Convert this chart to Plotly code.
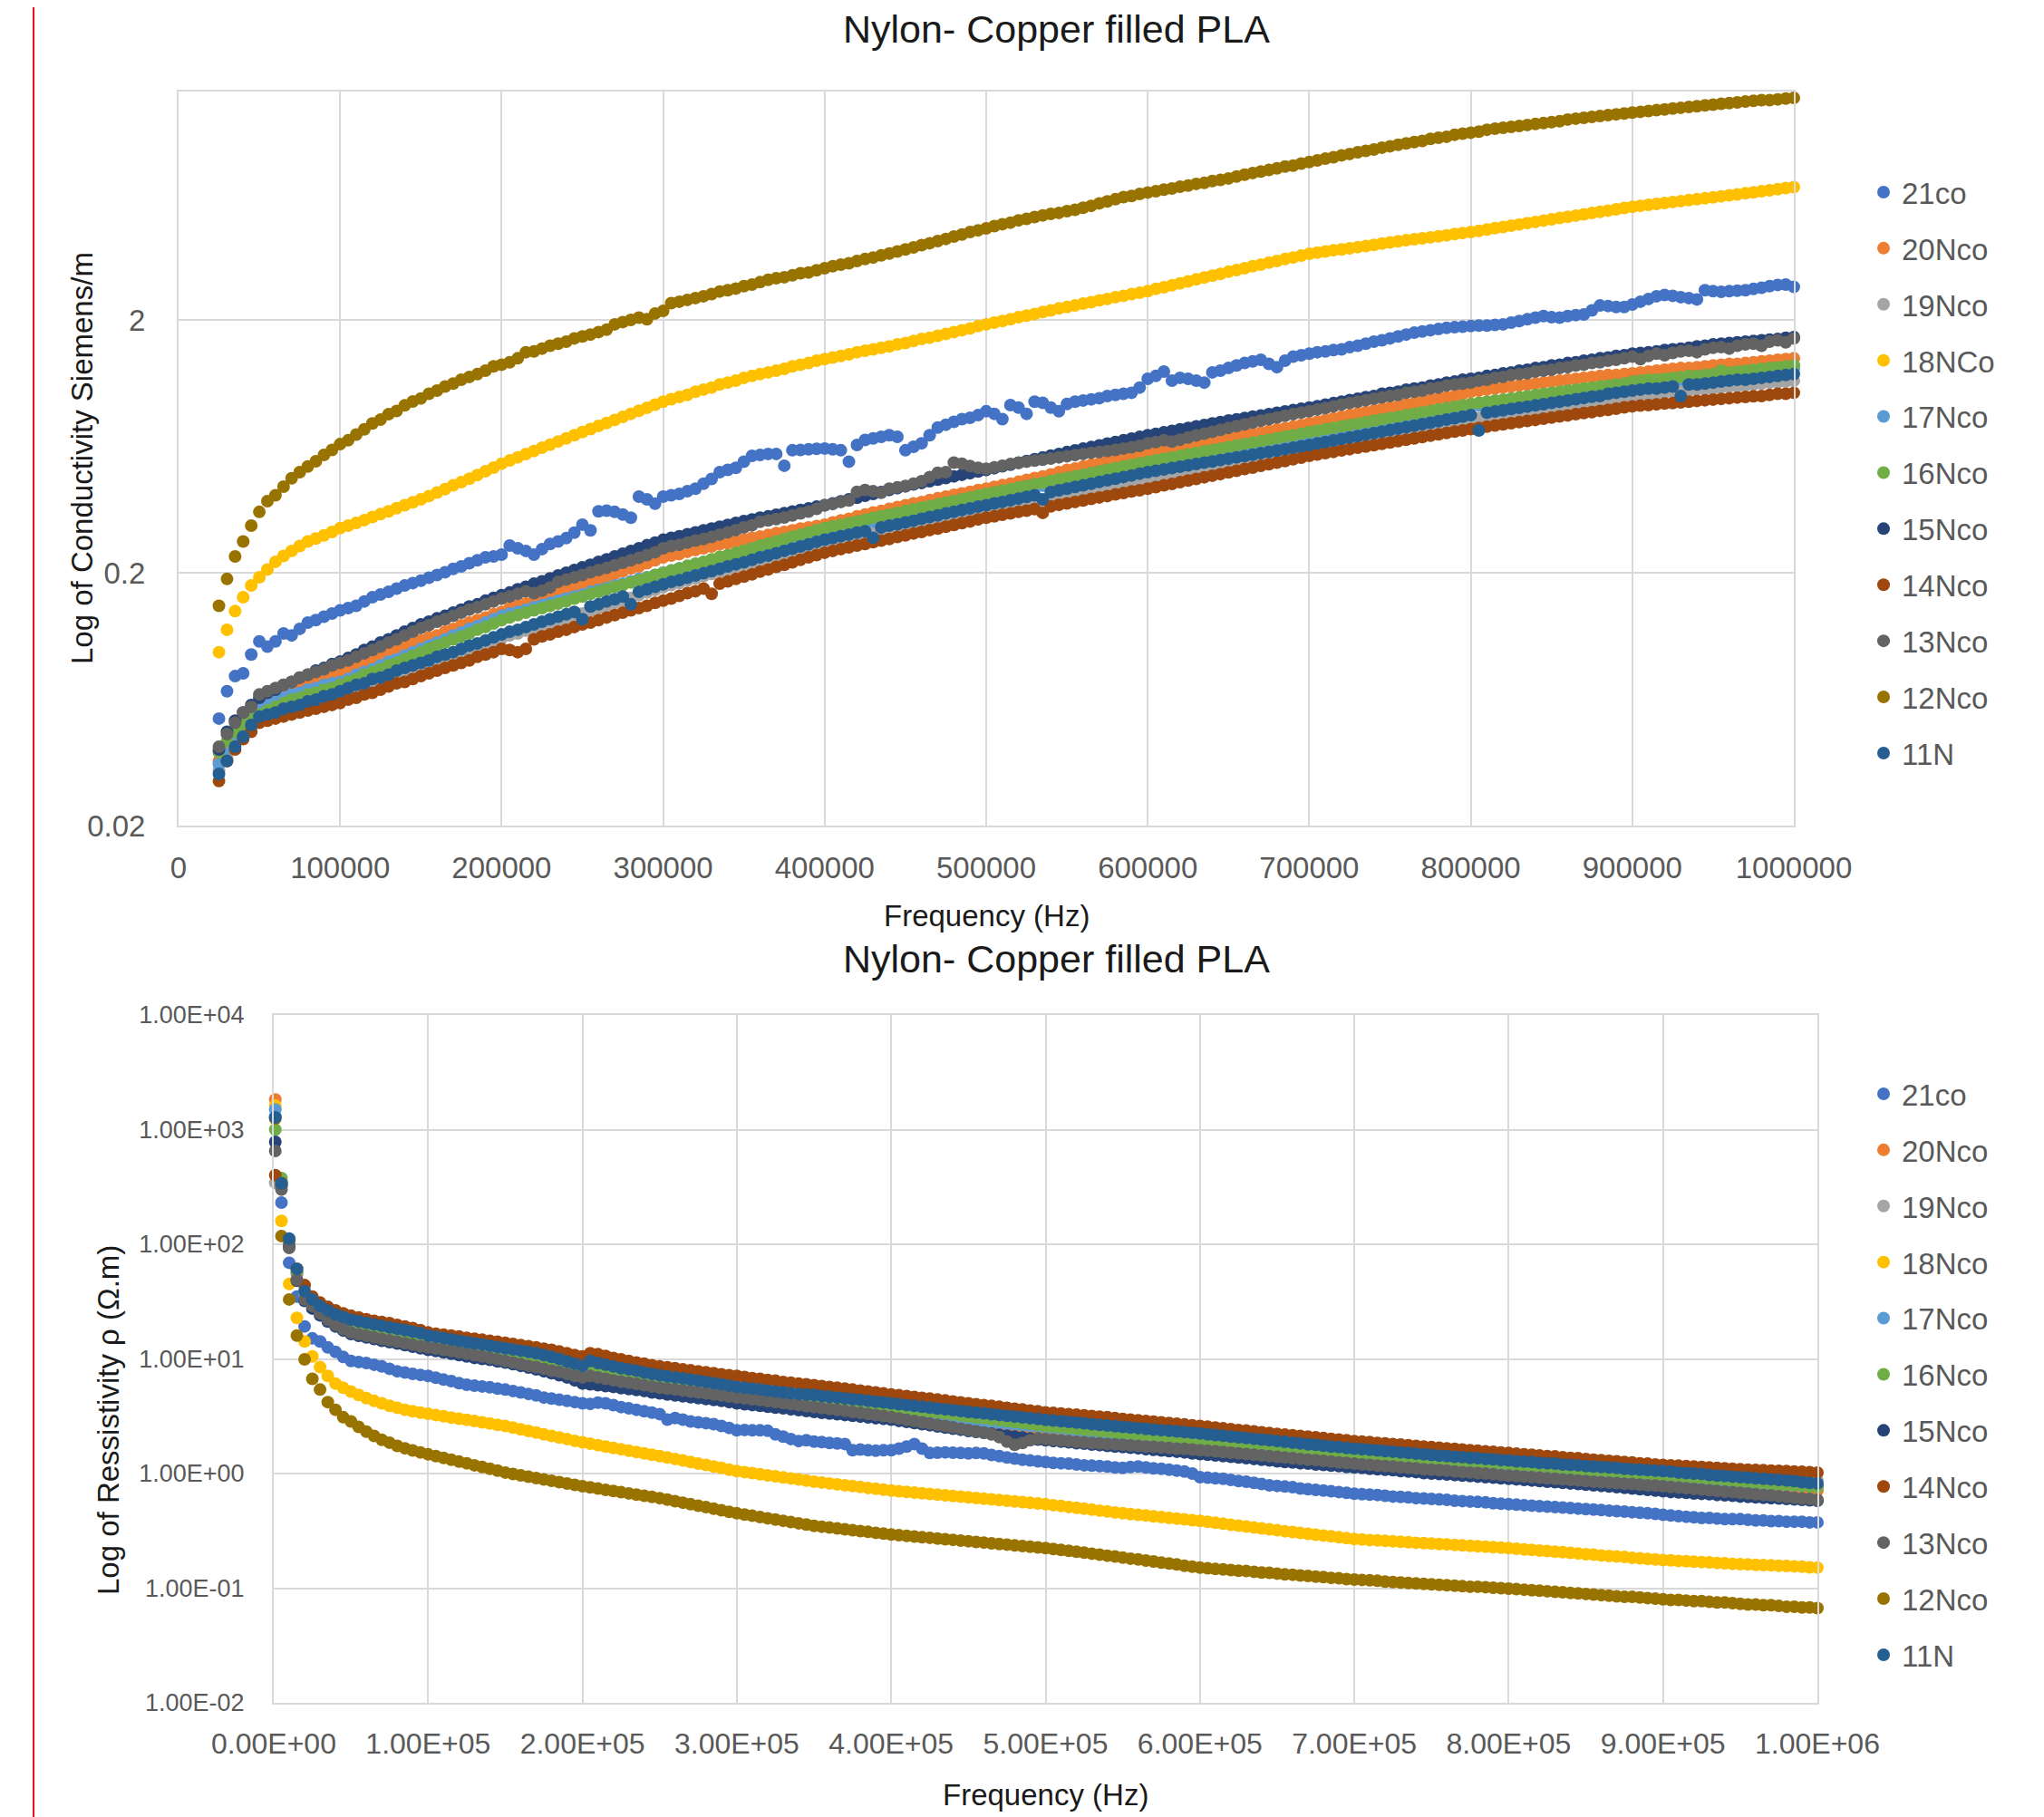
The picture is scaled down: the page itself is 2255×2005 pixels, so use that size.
import plotly.graph_objects as go

# ---------------- data ----------------
F_TOP_KHZ = list(range(25, 1001, 5))            # conductivity sweep (kHz)
F_BOT_KHZ = [1] + list(range(5, 1001, 5))        # resistivity sweep (kHz)

NAMES_TOP = ["21co", "20Nco", "19Nco", "18NCo", "17Nco", "16Nco", "15Nco", "14Nco", "13Nco", "12Nco", "11N"]
NAMES_BOT = ["21co", "20Nco", "19Nco", "18Nco", "17Nco", "16Nco", "15Nco", "14Nco", "13Nco", "12Nco", "11N"]
COLORS = ["#4472C4", "#ED7D31", "#A5A5A5", "#FFC000", "#5B9BD5", "#70AD47",
          "#264478", "#9E480E", "#636363", "#997300", "#255E91"]

TOP_X_TICKS = [0, 100000, 200000, 300000, 400000, 500000, 600000, 700000, 800000, 900000, 1000000]
TOP_X_LABELS = ["0", "100000", "200000", "300000", "400000", "500000", "600000", "700000", "800000", "900000", "1000000"]
TOP_Y_TICKS = [0.02, 0.2, 2]
TOP_Y_LABELS = ["0.02", "0.2", "2"]
BOT_X_LABELS = ["0.00E+00", "1.00E+05", "2.00E+05", "3.00E+05", "4.00E+05", "5.00E+05",
                "6.00E+05", "7.00E+05", "8.00E+05", "9.00E+05", "1.00E+06"]
BOT_Y_TICKS = [0.01, 0.1, 1, 10, 100, 1000, 10000]
BOT_Y_LABELS = ["1.00E-02", "1.00E-01", "1.00E+00", "1.00E+01", "1.00E+02", "1.00E+03", "1.00E+04"]

# Conductivity (S/m), top chart
SIGMA_21CO = [
    0.053, 0.068, 0.078, 0.080, 0.095, 0.107, 0.102, 0.107, 0.115, 0.113,
    0.120, 0.127, 0.130, 0.134, 0.138, 0.142, 0.145, 0.148, 0.154, 0.160,
    0.164, 0.168, 0.173, 0.178, 0.182, 0.186, 0.191, 0.196, 0.201, 0.207,
    0.212, 0.218, 0.224, 0.230, 0.232, 0.236, 0.256, 0.250, 0.244, 0.236,
    0.248, 0.260, 0.266, 0.274, 0.288, 0.310, 0.294, 0.350, 0.352, 0.348,
    0.340, 0.330, 0.400, 0.390, 0.375, 0.400, 0.405, 0.410, 0.420, 0.430,
    0.450, 0.470, 0.500, 0.510, 0.520, 0.550, 0.580, 0.585, 0.590, 0.590,
    0.530, 0.610, 0.612, 0.615, 0.618, 0.620, 0.615, 0.610, 0.550, 0.640,
    0.670, 0.680, 0.690, 0.700, 0.690, 0.610, 0.630, 0.650, 0.700, 0.750,
    0.770, 0.790, 0.810, 0.820, 0.840, 0.870, 0.850, 0.810, 0.920, 0.900,
    0.850, 0.950, 0.940, 0.900, 0.870, 0.930, 0.950, 0.960, 0.970, 0.980,
    1.00, 1.01, 1.02, 1.03, 1.08, 1.17, 1.20, 1.25, 1.15, 1.18,
    1.17, 1.15, 1.13, 1.24, 1.26, 1.29, 1.32, 1.35, 1.37, 1.39,
    1.34, 1.30, 1.38, 1.43, 1.45, 1.47, 1.49, 1.50, 1.52, 1.53,
    1.56, 1.58, 1.61, 1.64, 1.66, 1.69, 1.72, 1.75, 1.78, 1.80,
    1.82, 1.84, 1.86, 1.87, 1.88, 1.89, 1.90, 1.90, 1.91, 1.92,
    1.95, 1.98, 2.01, 2.04, 2.07, 2.05, 2.04, 2.07, 2.09, 2.10,
    2.18, 2.28, 2.27, 2.25, 2.25, 2.30, 2.36, 2.42, 2.48, 2.51,
    2.49, 2.46, 2.44, 2.41, 2.62, 2.60, 2.58, 2.60, 2.61, 2.62,
    2.65, 2.68, 2.72, 2.75, 2.76, 2.70]
SIGMA_20NCO = [
    0.036, 0.042, 0.047, 0.052, 0.057, 0.061, 0.063, 0.064, 0.067, 0.069,
    0.071, 0.073, 0.075, 0.076, 0.078, 0.080, 0.082, 0.085, 0.087, 0.090,
    0.093, 0.096, 0.098, 0.102, 0.105, 0.108, 0.111, 0.113, 0.117, 0.120,
    0.124, 0.127, 0.130, 0.133, 0.137, 0.140, 0.145, 0.148, 0.151, 0.155,
    0.159, 0.162, 0.167, 0.170, 0.174, 0.178, 0.183, 0.187, 0.193, 0.198,
    0.203, 0.208, 0.212, 0.218, 0.224, 0.230, 0.234, 0.237, 0.242, 0.246,
    0.250, 0.254, 0.259, 0.262, 0.266, 0.270, 0.275, 0.278, 0.282, 0.287,
    0.290, 0.294, 0.299, 0.302, 0.306, 0.310, 0.316, 0.322, 0.327, 0.334,
    0.340, 0.346, 0.351, 0.358, 0.364, 0.370, 0.376, 0.381, 0.388, 0.394,
    0.400, 0.407, 0.412, 0.418, 0.425, 0.430, 0.437, 0.444, 0.450, 0.458,
    0.466, 0.474, 0.481, 0.490, 0.500, 0.510, 0.517, 0.526, 0.535, 0.542,
    0.550, 0.558, 0.567, 0.574, 0.582, 0.590, 0.598, 0.607, 0.615, 0.624,
    0.633, 0.641, 0.651, 0.660, 0.669, 0.680, 0.689, 0.698, 0.708, 0.716,
    0.726, 0.737, 0.746, 0.756, 0.768, 0.780, 0.791, 0.804, 0.815, 0.828,
    0.840, 0.853, 0.864, 0.876, 0.889, 0.900, 0.912, 0.926, 0.938, 0.952,
    0.965, 0.978, 0.990, 1.00, 1.02, 1.04, 1.05, 1.06, 1.07, 1.08,
    1.09, 1.10, 1.11, 1.12, 1.13, 1.14, 1.15, 1.16, 1.17, 1.18,
    1.19, 1.20, 1.21, 1.21, 1.22, 1.23, 1.24, 1.25, 1.26, 1.27,
    1.28, 1.29, 1.29, 1.30, 1.31, 1.32, 1.33, 1.34, 1.34, 1.35,
    1.36, 1.37, 1.38, 1.39, 1.40, 1.41]
SIGMA_19NCO = [
    0.033, 0.037, 0.042, 0.046, 0.050, 0.053, 0.054, 0.055, 0.057, 0.058,
    0.059, 0.060, 0.062, 0.063, 0.064, 0.066, 0.068, 0.069, 0.071, 0.073,
    0.075, 0.077, 0.079, 0.081, 0.083, 0.085, 0.087, 0.090, 0.092, 0.094,
    0.097, 0.099, 0.102, 0.104, 0.107, 0.110, 0.113, 0.115, 0.118, 0.121,
    0.123, 0.126, 0.129, 0.132, 0.135, 0.138, 0.142, 0.145, 0.148, 0.152,
    0.155, 0.159, 0.163, 0.167, 0.171, 0.175, 0.179, 0.182, 0.186, 0.190,
    0.194, 0.198, 0.202, 0.206, 0.211, 0.215, 0.220, 0.224, 0.229, 0.234,
    0.239, 0.244, 0.249, 0.254, 0.260, 0.265, 0.269, 0.272, 0.276, 0.280,
    0.284, 0.288, 0.292, 0.296, 0.300, 0.304, 0.309, 0.313, 0.317, 0.322,
    0.326, 0.331, 0.336, 0.340, 0.345, 0.350, 0.355, 0.360, 0.365, 0.370,
    0.375, 0.380, 0.385, 0.391, 0.396, 0.402, 0.407, 0.413, 0.418, 0.424,
    0.430, 0.436, 0.442, 0.448, 0.454, 0.460, 0.467, 0.473, 0.480, 0.487,
    0.494, 0.501, 0.508, 0.515, 0.522, 0.530, 0.537, 0.545, 0.552, 0.560,
    0.568, 0.576, 0.584, 0.593, 0.601, 0.610, 0.619, 0.627, 0.636, 0.645,
    0.655, 0.664, 0.673, 0.683, 0.693, 0.702, 0.712, 0.722, 0.733, 0.743,
    0.754, 0.765, 0.775, 0.786, 0.798, 0.810, 0.819, 0.827, 0.836, 0.845,
    0.854, 0.863, 0.872, 0.881, 0.891, 0.900, 0.910, 0.920, 0.929, 0.939,
    0.949, 0.959, 0.970, 0.980, 0.990, 1.00, 1.01, 1.01, 1.02, 1.03,
    1.04, 1.04, 1.05, 1.06, 1.06, 1.07, 1.08, 1.09, 1.09, 1.10,
    1.11, 1.12, 1.13, 1.13, 1.14, 1.15]
SIGMA_18NCO = [
    0.097, 0.119, 0.141, 0.160, 0.178, 0.192, 0.206, 0.221, 0.233, 0.244,
    0.255, 0.266, 0.273, 0.281, 0.290, 0.300, 0.307, 0.315, 0.323, 0.332,
    0.341, 0.350, 0.360, 0.370, 0.380, 0.390, 0.402, 0.415, 0.428, 0.443,
    0.456, 0.471, 0.487, 0.504, 0.521, 0.540, 0.556, 0.572, 0.589, 0.606,
    0.624, 0.642, 0.661, 0.680, 0.700, 0.720, 0.740, 0.761, 0.782, 0.804,
    0.827, 0.850, 0.874, 0.898, 0.924, 0.950, 0.971, 0.992, 1.01, 1.04,
    1.06, 1.08, 1.11, 1.13, 1.15, 1.18, 1.20, 1.22, 1.24, 1.26,
    1.28, 1.31, 1.33, 1.35, 1.38, 1.40, 1.42, 1.44, 1.46, 1.49,
    1.51, 1.53, 1.55, 1.57, 1.60, 1.62, 1.65, 1.68, 1.70, 1.73,
    1.76, 1.79, 1.82, 1.85, 1.89, 1.92, 1.95, 1.98, 2.01, 2.05,
    2.08, 2.11, 2.15, 2.18, 2.22, 2.25, 2.28, 2.32, 2.35, 2.39,
    2.42, 2.46, 2.49, 2.53, 2.56, 2.60, 2.65, 2.69, 2.74, 2.79,
    2.84, 2.89, 2.94, 2.99, 3.04, 3.10, 3.15, 3.20, 3.26, 3.31,
    3.37, 3.42, 3.48, 3.53, 3.59, 3.65, 3.69, 3.73, 3.77, 3.80,
    3.84, 3.88, 3.92, 3.96, 4.01, 4.05, 4.09, 4.13, 4.17, 4.20,
    4.24, 4.28, 4.32, 4.37, 4.41, 4.45, 4.50, 4.55, 4.61, 4.66,
    4.72, 4.77, 4.83, 4.88, 4.94, 5.00, 5.06, 5.11, 5.17, 5.23,
    5.29, 5.35, 5.41, 5.47, 5.54, 5.60, 5.65, 5.70, 5.75, 5.80,
    5.85, 5.90, 5.95, 6.00, 6.05, 6.10, 6.16, 6.22, 6.27, 6.33,
    6.39, 6.45, 6.51, 6.57, 6.64, 6.70]
SIGMA_17NCO = [
    0.035, 0.040, 0.045, 0.050, 0.054, 0.058, 0.060, 0.062, 0.064, 0.066,
    0.067, 0.069, 0.070, 0.072, 0.073, 0.074, 0.076, 0.079, 0.081, 0.083,
    0.086, 0.089, 0.091, 0.094, 0.097, 0.100, 0.103, 0.106, 0.109, 0.113,
    0.116, 0.120, 0.123, 0.127, 0.131, 0.135, 0.138, 0.140, 0.143, 0.146,
    0.149, 0.152, 0.155, 0.158, 0.161, 0.164, 0.168, 0.171, 0.174, 0.178,
    0.181, 0.185, 0.189, 0.192, 0.196, 0.200, 0.204, 0.208, 0.212, 0.216,
    0.220, 0.224, 0.228, 0.232, 0.237, 0.241, 0.246, 0.250, 0.255, 0.260,
    0.265, 0.270, 0.275, 0.280, 0.285, 0.290, 0.295, 0.299, 0.304, 0.309,
    0.314, 0.319, 0.324, 0.329, 0.335, 0.340, 0.346, 0.351, 0.357, 0.363,
    0.368, 0.374, 0.381, 0.387, 0.393, 0.400, 0.406, 0.412, 0.417, 0.423,
    0.429, 0.435, 0.442, 0.448, 0.454, 0.461, 0.467, 0.474, 0.481, 0.487,
    0.494, 0.501, 0.508, 0.515, 0.523, 0.530, 0.537, 0.545, 0.553, 0.560,
    0.568, 0.576, 0.584, 0.592, 0.601, 0.609, 0.618, 0.626, 0.635, 0.644,
    0.653, 0.662, 0.671, 0.681, 0.690, 0.700, 0.709, 0.718, 0.728, 0.737,
    0.747, 0.757, 0.767, 0.777, 0.787, 0.798, 0.808, 0.819, 0.830, 0.841,
    0.852, 0.863, 0.874, 0.886, 0.898, 0.910, 0.919, 0.928, 0.938, 0.947,
    0.957, 0.966, 0.976, 0.986, 0.996, 1.01, 1.02, 1.03, 1.04, 1.05,
    1.06, 1.07, 1.08, 1.09, 1.10, 1.11, 1.12, 1.13, 1.13, 1.14,
    1.15, 1.16, 1.16, 1.17, 1.18, 1.19, 1.20, 1.21, 1.21, 1.22,
    1.23, 1.24, 1.25, 1.26, 1.27, 1.28]
SIGMA_16NCO = [
    0.039, 0.043, 0.047, 0.050, 0.053, 0.055, 0.057, 0.059, 0.061, 0.063,
    0.064, 0.066, 0.067, 0.069, 0.070, 0.072, 0.074, 0.076, 0.079, 0.081,
    0.083, 0.086, 0.088, 0.091, 0.094, 0.097, 0.100, 0.103, 0.106, 0.109,
    0.112, 0.115, 0.119, 0.122, 0.126, 0.130, 0.133, 0.136, 0.139, 0.142,
    0.145, 0.148, 0.151, 0.154, 0.158, 0.161, 0.165, 0.168, 0.172, 0.176,
    0.179, 0.183, 0.187, 0.191, 0.196, 0.200, 0.204, 0.208, 0.213, 0.217,
    0.221, 0.226, 0.231, 0.235, 0.240, 0.245, 0.250, 0.256, 0.261, 0.266,
    0.272, 0.278, 0.283, 0.289, 0.295, 0.300, 0.305, 0.310, 0.314, 0.319,
    0.324, 0.330, 0.335, 0.340, 0.345, 0.351, 0.356, 0.362, 0.367, 0.373,
    0.379, 0.385, 0.391, 0.397, 0.404, 0.410, 0.416, 0.422, 0.428, 0.435,
    0.441, 0.448, 0.454, 0.461, 0.468, 0.475, 0.482, 0.489, 0.496, 0.504,
    0.511, 0.519, 0.527, 0.534, 0.542, 0.550, 0.557, 0.565, 0.572, 0.580,
    0.588, 0.596, 0.604, 0.612, 0.620, 0.629, 0.637, 0.646, 0.654, 0.663,
    0.672, 0.681, 0.691, 0.700, 0.710, 0.720, 0.729, 0.739, 0.748, 0.758,
    0.768, 0.778, 0.788, 0.798, 0.808, 0.819, 0.829, 0.840, 0.851, 0.862,
    0.873, 0.885, 0.896, 0.907, 0.919, 0.930, 0.940, 0.949, 0.959, 0.968,
    0.978, 0.988, 0.998, 1.01, 1.02, 1.03, 1.04, 1.05, 1.06, 1.07,
    1.08, 1.09, 1.10, 1.11, 1.12, 1.14, 1.15, 1.16, 1.16, 1.17,
    1.18, 1.19, 1.20, 1.20, 1.21, 1.22, 1.26, 1.24, 1.25, 1.26,
    1.27, 1.28, 1.29, 1.30, 1.31, 1.32]
SIGMA_15NCO = [
    0.040, 0.047, 0.052, 0.056, 0.060, 0.064, 0.067, 0.069, 0.072, 0.074,
    0.077, 0.079, 0.082, 0.084, 0.087, 0.089, 0.092, 0.095, 0.099, 0.102,
    0.106, 0.109, 0.113, 0.117, 0.121, 0.125, 0.128, 0.132, 0.135, 0.139,
    0.143, 0.147, 0.150, 0.155, 0.159, 0.163, 0.167, 0.172, 0.176, 0.181,
    0.185, 0.190, 0.195, 0.200, 0.205, 0.210, 0.215, 0.221, 0.226, 0.232,
    0.238, 0.244, 0.250, 0.257, 0.263, 0.270, 0.275, 0.279, 0.284, 0.289,
    0.294, 0.299, 0.304, 0.309, 0.315, 0.320, 0.325, 0.330, 0.334, 0.339,
    0.344, 0.349, 0.354, 0.359, 0.365, 0.370, 0.376, 0.383, 0.390, 0.396,
    0.403, 0.410, 0.417, 0.425, 0.432, 0.440, 0.447, 0.453, 0.460, 0.467,
    0.474, 0.481, 0.488, 0.495, 0.503, 0.510, 0.518, 0.527, 0.535, 0.544,
    0.553, 0.562, 0.571, 0.581, 0.590, 0.600, 0.609, 0.619, 0.628, 0.638,
    0.648, 0.658, 0.668, 0.679, 0.689, 0.700, 0.709, 0.719, 0.728, 0.738,
    0.748, 0.758, 0.768, 0.779, 0.789, 0.800, 0.809, 0.819, 0.829, 0.838,
    0.848, 0.858, 0.869, 0.879, 0.890, 0.900, 0.912, 0.925, 0.937, 0.950,
    0.963, 0.976, 0.989, 1.00, 1.02, 1.03, 1.04, 1.06, 1.07, 1.08,
    1.10, 1.11, 1.13, 1.14, 1.16, 1.17, 1.18, 1.20, 1.21, 1.23,
    1.24, 1.26, 1.27, 1.29, 1.30, 1.32, 1.33, 1.35, 1.36, 1.38,
    1.39, 1.41, 1.42, 1.44, 1.45, 1.47, 1.48, 1.49, 1.50, 1.52,
    1.53, 1.54, 1.55, 1.57, 1.58, 1.60, 1.61, 1.62, 1.63, 1.64,
    1.65, 1.66, 1.67, 1.68, 1.70, 1.71]
SIGMA_14NCO = [
    0.030, 0.036, 0.040, 0.044, 0.047, 0.051, 0.052, 0.053, 0.054, 0.055,
    0.056, 0.057, 0.058, 0.059, 0.060, 0.061, 0.063, 0.064, 0.066, 0.067,
    0.069, 0.071, 0.073, 0.074, 0.076, 0.078, 0.080, 0.082, 0.084, 0.086,
    0.088, 0.090, 0.093, 0.095, 0.097, 0.100, 0.099, 0.097, 0.100, 0.109,
    0.112, 0.114, 0.117, 0.119, 0.122, 0.125, 0.127, 0.130, 0.133, 0.136,
    0.139, 0.142, 0.145, 0.148, 0.152, 0.155, 0.158, 0.162, 0.166, 0.169,
    0.173, 0.165, 0.181, 0.185, 0.189, 0.193, 0.197, 0.202, 0.206, 0.211,
    0.215, 0.220, 0.225, 0.230, 0.235, 0.240, 0.244, 0.248, 0.252, 0.256,
    0.260, 0.264, 0.268, 0.272, 0.277, 0.281, 0.286, 0.290, 0.295, 0.299,
    0.304, 0.309, 0.314, 0.319, 0.325, 0.330, 0.334, 0.339, 0.343, 0.348,
    0.352, 0.357, 0.345, 0.366, 0.371, 0.376, 0.381, 0.386, 0.392, 0.397,
    0.402, 0.408, 0.413, 0.419, 0.424, 0.430, 0.436, 0.443, 0.449, 0.456,
    0.463, 0.470, 0.477, 0.484, 0.491, 0.499, 0.506, 0.514, 0.521, 0.529,
    0.537, 0.545, 0.553, 0.562, 0.570, 0.580, 0.587, 0.594, 0.601, 0.609,
    0.616, 0.624, 0.631, 0.639, 0.647, 0.655, 0.663, 0.671, 0.680, 0.688,
    0.697, 0.705, 0.714, 0.723, 0.731, 0.740, 0.748, 0.756, 0.764, 0.772,
    0.780, 0.788, 0.796, 0.804, 0.813, 0.821, 0.830, 0.838, 0.847, 0.856,
    0.864, 0.873, 0.882, 0.891, 0.901, 0.910, 0.916, 0.921, 0.927, 0.933,
    0.938, 0.944, 0.950, 0.956, 0.962, 0.968, 0.974, 0.980, 0.986, 0.992,
    0.998, 1.00, 1.01, 1.02, 1.02, 1.03]
SIGMA_13NCO = [
    0.041, 0.046, 0.051, 0.056, 0.059, 0.066, 0.068, 0.070, 0.072, 0.074,
    0.077, 0.079, 0.081, 0.083, 0.086, 0.088, 0.090, 0.093, 0.096, 0.099,
    0.102, 0.106, 0.109, 0.113, 0.117, 0.121, 0.124, 0.128, 0.131, 0.135,
    0.139, 0.143, 0.146, 0.150, 0.154, 0.158, 0.161, 0.165, 0.169, 0.166,
    0.170, 0.175, 0.184, 0.188, 0.192, 0.196, 0.201, 0.205, 0.209, 0.214,
    0.219, 0.224, 0.229, 0.235, 0.241, 0.250, 0.255, 0.258, 0.263, 0.268,
    0.272, 0.277, 0.283, 0.289, 0.295, 0.302, 0.308, 0.318, 0.322, 0.326,
    0.331, 0.337, 0.343, 0.349, 0.358, 0.370, 0.374, 0.381, 0.386, 0.418,
    0.425, 0.420, 0.414, 0.430, 0.435, 0.440, 0.450, 0.460, 0.478, 0.497,
    0.500, 0.545, 0.540, 0.528, 0.520, 0.515, 0.522, 0.530, 0.538, 0.545,
    0.550, 0.555, 0.560, 0.566, 0.572, 0.578, 0.584, 0.590, 0.596, 0.600,
    0.606, 0.612, 0.620, 0.627, 0.635, 0.650, 0.658, 0.668, 0.660, 0.672,
    0.685, 0.698, 0.710, 0.722, 0.735, 0.748, 0.760, 0.772, 0.785, 0.798,
    0.810, 0.822, 0.835, 0.848, 0.860, 0.870, 0.884, 0.896, 0.910, 0.925,
    0.938, 0.950, 0.962, 0.975, 0.988, 1.00, 1.01, 1.03, 1.04, 1.05,
    1.07, 1.08, 1.10, 1.11, 1.12, 1.13, 1.15, 1.16, 1.18, 1.19,
    1.21, 1.22, 1.23, 1.25, 1.26, 1.27, 1.29, 1.30, 1.32, 1.33,
    1.35, 1.36, 1.38, 1.39, 1.41, 1.43, 1.40, 1.44, 1.47, 1.45,
    1.48, 1.50, 1.51, 1.49, 1.53, 1.55, 1.56, 1.54, 1.58, 1.60,
    1.61, 1.58, 1.64, 1.66, 1.63, 1.69]
SIGMA_12NCO = [
    0.148, 0.189, 0.232, 0.266, 0.307, 0.348, 0.384, 0.405, 0.438, 0.473,
    0.500, 0.526, 0.552, 0.585, 0.612, 0.645, 0.668, 0.704, 0.738, 0.779,
    0.806, 0.847, 0.872, 0.918, 0.951, 0.978, 1.02, 1.05, 1.09, 1.12,
    1.16, 1.19, 1.22, 1.26, 1.31, 1.33, 1.36, 1.41, 1.49, 1.50,
    1.54, 1.58, 1.61, 1.64, 1.69, 1.72, 1.75, 1.79, 1.83, 1.92,
    1.96, 2.00, 2.04, 2.01, 2.12, 2.17, 2.33, 2.36, 2.40, 2.44,
    2.48, 2.53, 2.59, 2.62, 2.66, 2.72, 2.76, 2.82, 2.88, 2.92,
    2.95, 3.00, 3.06, 3.08, 3.14, 3.20, 3.26, 3.31, 3.35, 3.42,
    3.48, 3.53, 3.60, 3.66, 3.73, 3.80, 3.87, 3.95, 4.02, 4.10,
    4.18, 4.27, 4.35, 4.45, 4.52, 4.60, 4.70, 4.78, 4.85, 4.95,
    5.02, 5.10, 5.18, 5.25, 5.30, 5.38, 5.45, 5.55, 5.65, 5.78,
    5.88, 6.00, 6.12, 6.18, 6.30, 6.38, 6.45, 6.55, 6.62, 6.72,
    6.80, 6.90, 6.96, 7.08, 7.15, 7.25, 7.38, 7.50, 7.62, 7.72,
    7.83, 7.95, 8.08, 8.15, 8.30, 8.42, 8.55, 8.68, 8.80, 8.95,
    9.06, 9.20, 9.32, 9.44, 9.60, 9.72, 9.85, 9.98, 10.1, 10.2,
    10.4, 10.5, 10.6, 10.8, 10.9, 11.0, 11.1, 11.3, 11.4, 11.5,
    11.6, 11.7, 11.8, 11.9, 12.0, 12.1, 12.2, 12.4, 12.5, 12.6,
    12.7, 12.8, 12.9, 13.0, 13.1, 13.2, 13.3, 13.4, 13.5, 13.6,
    13.7, 13.8, 13.9, 14.0, 14.1, 14.2, 14.3, 14.4, 14.5, 14.6,
    14.7, 14.8, 14.8, 14.9, 15.0, 15.1]
SIGMA_11N = [
    0.032, 0.036, 0.041, 0.045, 0.050, 0.054, 0.055, 0.056, 0.058, 0.059,
    0.060, 0.062, 0.063, 0.065, 0.066, 0.068, 0.070, 0.072, 0.073, 0.076,
    0.077, 0.079, 0.082, 0.084, 0.086, 0.088, 0.090, 0.093, 0.095, 0.097,
    0.100, 0.103, 0.105, 0.108, 0.111, 0.114, 0.117, 0.119, 0.122, 0.125,
    0.128, 0.131, 0.134, 0.137, 0.140, 0.131, 0.147, 0.150, 0.154, 0.157,
    0.161, 0.150, 0.168, 0.172, 0.176, 0.180, 0.184, 0.187, 0.191, 0.195,
    0.199, 0.203, 0.207, 0.212, 0.216, 0.220, 0.225, 0.230, 0.234, 0.239,
    0.244, 0.249, 0.254, 0.259, 0.265, 0.270, 0.274, 0.279, 0.283, 0.288,
    0.292, 0.275, 0.302, 0.307, 0.311, 0.316, 0.321, 0.327, 0.332, 0.337,
    0.343, 0.348, 0.354, 0.359, 0.365, 0.370, 0.376, 0.381, 0.387, 0.393,
    0.399, 0.405, 0.390, 0.417, 0.424, 0.430, 0.437, 0.443, 0.450, 0.457,
    0.464, 0.471, 0.478, 0.485, 0.493, 0.500, 0.506, 0.512, 0.519, 0.525,
    0.532, 0.538, 0.545, 0.551, 0.558, 0.565, 0.572, 0.579, 0.586, 0.594,
    0.601, 0.608, 0.616, 0.624, 0.632, 0.640, 0.649, 0.658, 0.667, 0.676,
    0.685, 0.694, 0.704, 0.713, 0.723, 0.733, 0.743, 0.753, 0.763, 0.774,
    0.784, 0.795, 0.806, 0.817, 0.828, 0.840, 0.730, 0.859, 0.868, 0.878,
    0.888, 0.898, 0.908, 0.918, 0.928, 0.939, 0.949, 0.960, 0.971, 0.982,
    0.993, 1.00, 1.02, 1.03, 1.04, 1.05, 1.06, 1.07, 1.07, 1.08,
    1.09, 1.00, 1.11, 1.11, 1.12, 1.13, 1.14, 1.15, 1.16, 1.16,
    1.17, 1.18, 1.19, 1.20, 1.21, 1.22]

# Resistivity (ohm.m), bottom chart
RHO_21CO = [1300,
    231, 69, 35, 19.2, 15.1, 14.2, 12.6, 11.5, 10.4, 9.6,
    9.4, 9.2, 8.9, 8.6, 8.2, 7.8, 7.6, 7.4, 7.25, 7.1,
    6.85, 6.6, 6.4, 6.15, 5.95, 5.85, 5.75, 5.65, 5.5, 5.4,
    5.25, 5.1, 4.95, 4.8, 4.6, 4.5, 4.4, 4.3, 4.2, 4.1,
    4.05, 4.15, 4.1, 3.95, 3.8, 3.7, 3.6, 3.5, 3.4, 3.3,
    2.95, 3.05, 2.95, 2.85, 2.8, 2.75, 2.7, 2.6, 2.5, 2.38,
    2.4, 2.38, 2.38, 2.36, 2.2, 2.1, 2.0, 1.92, 1.95, 1.9,
    1.88, 1.85, 1.83, 1.81, 1.6, 1.62, 1.6, 1.58, 1.6, 1.6,
    1.65, 1.72, 1.81, 1.65, 1.51, 1.52, 1.53, 1.52, 1.51, 1.5,
    1.51, 1.5, 1.45, 1.42, 1.38, 1.35, 1.32, 1.3, 1.28, 1.26,
    1.24, 1.23, 1.22, 1.2, 1.18, 1.17, 1.16, 1.15, 1.13, 1.12,
    1.14, 1.15, 1.13, 1.11, 1.1, 1.08, 1.06, 1.04, 1.0, 0.93,
    0.92, 0.91, 0.9, 0.88, 0.86, 0.85, 0.83, 0.81, 0.79, 0.78,
    0.77, 0.76, 0.74, 0.73, 0.72, 0.71, 0.7, 0.69, 0.68, 0.667,
    0.66, 0.655, 0.65, 0.64, 0.63, 0.625, 0.62, 0.61, 0.605, 0.6,
    0.595, 0.59, 0.58, 0.575, 0.57, 0.565, 0.56, 0.55, 0.545, 0.54,
    0.535, 0.53, 0.525, 0.52, 0.515, 0.51, 0.505, 0.5, 0.495, 0.49,
    0.485, 0.48, 0.475, 0.47, 0.465, 0.46, 0.455, 0.45, 0.445, 0.436,
    0.43, 0.425, 0.42, 0.415, 0.41, 0.41, 0.405, 0.4, 0.4, 0.4,
    0.395, 0.39, 0.39, 0.385, 0.385, 0.38, 0.38, 0.38, 0.375, 0.375]
RHO_20NCO = [1830,
    345, 100, 55, 36, 30.5, 27, 24, 21.8, 20.2, 19,
    18.4, 17.8, 17.2, 16.7, 16.2, 15.7, 15.2, 14.7, 14.2, 13.8,
    13.4, 13.1, 12.8, 12.5, 12.2, 11.9, 11.5, 11.2, 10.8, 10.5,
    10.2, 9.9, 9.5, 9.2, 8.9, 8.6, 8.3, 8.0, 7.7, 7.4,
    7.2, 7.05, 6.9, 6.7, 6.55, 6.4, 6.25, 6.1, 5.95, 5.8,
    5.65, 5.5, 5.4, 5.3, 5.2, 5.1, 4.97, 4.85, 4.72, 4.6,
    4.5, 4.42, 4.33, 4.25, 4.17, 4.1, 4.02, 3.95, 3.88, 3.8,
    3.74, 3.68, 3.62, 3.57, 3.52, 3.47, 3.42, 3.38, 3.34, 3.3,
    3.24, 3.19, 3.14, 3.09, 3.04, 2.99, 2.94, 2.89, 2.84, 2.8,
    2.76, 2.72, 2.68, 2.64, 2.6, 2.56, 2.52, 2.48, 2.44, 2.4,
    2.36, 2.32, 2.28, 2.24, 2.2, 2.16, 2.12, 2.08, 2.05, 2.02,
    1.98, 1.95, 1.92, 1.89, 1.86, 1.83, 1.8, 1.78, 1.75, 1.72,
    1.69, 1.67, 1.64, 1.62, 1.59, 1.57, 1.55, 1.53, 1.5, 1.48,
    1.46, 1.44, 1.42, 1.41, 1.39, 1.37, 1.35, 1.33, 1.32, 1.3,
    1.28, 1.27, 1.25, 1.24, 1.22, 1.2, 1.19, 1.17, 1.16, 1.14,
    1.13, 1.11, 1.1, 1.09, 1.07, 1.06, 1.05, 1.03, 1.02, 1.0,
    0.99, 0.98, 0.97, 0.96, 0.95, 0.94, 0.93, 0.92, 0.91, 0.9,
    0.89, 0.88, 0.875, 0.87, 0.86, 0.85, 0.845, 0.84, 0.83, 0.82,
    0.81, 0.805, 0.8, 0.79, 0.785, 0.78, 0.77, 0.765, 0.76, 0.755,
    0.75, 0.745, 0.74, 0.735, 0.73, 0.725, 0.72, 0.715, 0.71, 0.71]
RHO_19NCO = [344,
    330, 108, 58, 38, 32, 28.5, 25.8, 23.8, 22.3, 21,
    20.3, 19.6, 19, 18.4, 17.8, 17.2, 16.6, 16.1, 15.5, 15,
    14.7, 14.4, 14.1, 13.8, 13.5, 13.2, 12.9, 12.6, 12.3, 12,
    11.6, 11.2, 10.9, 10.5, 10.2, 9.9, 9.6, 9.3, 9.0, 8.7,
    8.5, 8.3, 8.1, 7.9, 7.7, 7.5, 7.3, 7.1, 6.95, 6.8,
    6.65, 6.5, 6.35, 6.25, 6.1, 6.0, 5.9, 5.8, 5.7, 5.6,
    5.47, 5.35, 5.22, 5.1, 4.98, 4.87, 4.76, 4.65, 4.55, 4.45,
    4.37, 4.29, 4.21, 4.14, 4.07, 4.0, 3.94, 3.88, 3.84, 3.8,
    3.75, 3.69, 3.64, 3.59, 3.53, 3.48, 3.43, 3.38, 3.33, 3.28,
    3.23, 3.18, 3.14, 3.09, 3.05, 3.01, 2.97, 2.93, 2.89, 2.85,
    2.81, 2.78, 2.74, 2.71, 2.67, 2.64, 2.61, 2.57, 2.54, 2.5,
    2.47, 2.43, 2.4, 2.37, 2.33, 2.3, 2.27, 2.24, 2.2, 2.17,
    2.14, 2.11, 2.08, 2.05, 2.02, 1.99, 1.96, 1.93, 1.9, 1.87,
    1.84, 1.81, 1.79, 1.76, 1.74, 1.71, 1.69, 1.67, 1.64, 1.62,
    1.6, 1.58, 1.56, 1.54, 1.52, 1.5, 1.48, 1.46, 1.44, 1.42,
    1.4, 1.38, 1.36, 1.35, 1.33, 1.31, 1.29, 1.27, 1.25, 1.23,
    1.22, 1.2, 1.19, 1.18, 1.16, 1.15, 1.14, 1.12, 1.11, 1.1,
    1.09, 1.08, 1.07, 1.06, 1.05, 1.04, 1.03, 1.02, 1.01, 1.0,
    0.99, 0.98, 0.975, 0.97, 0.96, 0.95, 0.945, 0.94, 0.93, 0.925,
    0.92, 0.915, 0.91, 0.905, 0.9, 0.895, 0.89, 0.885, 0.875, 0.87]
RHO_18NCO = [1620,
    160, 45, 22.8, 14.2, 10.5, 8.5, 7.1, 6.1, 5.6, 5.2,
    4.85, 4.55, 4.3, 4.1, 3.9, 3.75, 3.6, 3.5, 3.4, 3.32,
    3.24, 3.16, 3.08, 3.01, 2.94, 2.87, 2.8, 2.73, 2.66, 2.6,
    2.52, 2.43, 2.35, 2.28, 2.2, 2.13, 2.06, 2.0, 1.93, 1.87,
    1.82, 1.77, 1.72, 1.67, 1.63, 1.58, 1.54, 1.5, 1.46, 1.42,
    1.38, 1.34, 1.3, 1.26, 1.22, 1.19, 1.15, 1.12, 1.08, 1.05,
    1.03, 1.01, 0.986, 0.965, 0.945, 0.925, 0.906, 0.887, 0.868, 0.85,
    0.835, 0.82, 0.805, 0.791, 0.777, 0.763, 0.749, 0.736, 0.723, 0.71,
    0.7, 0.691, 0.681, 0.672, 0.663, 0.654, 0.646, 0.637, 0.628, 0.62,
    0.612, 0.603, 0.595, 0.587, 0.579, 0.571, 0.563, 0.555, 0.548, 0.54,
    0.53, 0.521, 0.511, 0.502, 0.493, 0.484, 0.475, 0.467, 0.458, 0.45,
    0.443, 0.436, 0.43, 0.423, 0.417, 0.41, 0.404, 0.398, 0.392, 0.386,
    0.379, 0.372, 0.365, 0.358, 0.351, 0.345, 0.338, 0.332, 0.326, 0.32,
    0.314, 0.309, 0.303, 0.298, 0.293, 0.288, 0.283, 0.278, 0.273, 0.268,
    0.266, 0.263, 0.261, 0.259, 0.256, 0.254, 0.252, 0.249, 0.247, 0.245,
    0.243, 0.241, 0.238, 0.236, 0.234, 0.232, 0.23, 0.228, 0.226, 0.224,
    0.221, 0.218, 0.216, 0.213, 0.211, 0.208, 0.206, 0.203, 0.201, 0.198,
    0.196, 0.193, 0.191, 0.189, 0.187, 0.184, 0.182, 0.18, 0.178, 0.176,
    0.175, 0.173, 0.172, 0.17, 0.169, 0.168, 0.166, 0.165, 0.163, 0.162,
    0.161, 0.16, 0.159, 0.158, 0.157, 0.156, 0.155, 0.154, 0.152, 0.151]
RHO_17NCO = [1500,
    350, 102, 56, 37, 31, 27.5, 24.5, 22.3, 20.8, 19.5,
    18.9, 18.3, 17.7, 17.1, 16.6, 16.1, 15.6, 15.1, 14.5, 14,
    13.7, 13.4, 13.1, 12.8, 12.5, 12.2, 11.9, 11.6, 11.3, 11,
    10.6, 10.2, 9.8, 9.5, 9.1, 8.8, 8.5, 8.2, 7.9, 7.6,
    7.45, 7.3, 7.15, 7.0, 6.85, 6.7, 6.55, 6.4, 6.3, 6.15,
    6.0, 5.9, 5.8, 5.7, 5.55, 5.45, 5.35, 5.25, 5.1, 5.0,
    4.9, 4.8, 4.72, 4.63, 4.55, 4.46, 4.38, 4.3, 4.22, 4.15,
    4.07, 4.0, 3.92, 3.85, 3.78, 3.71, 3.64, 3.58, 3.51, 3.45,
    3.4, 3.34, 3.29, 3.24, 3.18, 3.13, 3.08, 3.03, 2.98, 2.94,
    2.89, 2.85, 2.8, 2.76, 2.72, 2.68, 2.64, 2.6, 2.57, 2.53,
    2.49, 2.45, 2.41, 2.37, 2.33, 2.29, 2.25, 2.21, 2.18, 2.14,
    2.11, 2.08, 2.05, 2.02, 1.99, 1.96, 1.93, 1.9, 1.88, 1.85,
    1.82, 1.79, 1.76, 1.73, 1.71, 1.68, 1.65, 1.63, 1.6, 1.58,
    1.56, 1.54, 1.52, 1.5, 1.48, 1.46, 1.44, 1.43, 1.41, 1.39,
    1.37, 1.35, 1.34, 1.32, 1.3, 1.29, 1.27, 1.26, 1.24, 1.23,
    1.21, 1.2, 1.18, 1.17, 1.16, 1.14, 1.13, 1.12, 1.1, 1.09,
    1.08, 1.07, 1.06, 1.05, 1.04, 1.03, 1.02, 1.01, 1.0, 0.99,
    0.98, 0.97, 0.96, 0.95, 0.94, 0.93, 0.92, 0.91, 0.9, 0.89,
    0.88, 0.875, 0.87, 0.86, 0.855, 0.85, 0.84, 0.835, 0.83, 0.82,
    0.815, 0.81, 0.805, 0.8, 0.795, 0.79, 0.785, 0.78, 0.78, 0.775]
RHO_16NCO = [1000,
    378, 105, 58, 38, 32, 28, 25.5, 23.5, 22.2, 21,
    20.3, 19.6, 19, 18.4, 17.8, 17.3, 16.8, 16.3, 15.7, 15.2,
    14.8, 14.4, 14.1, 13.7, 13.4, 13.0, 12.7, 12.4, 12.1, 11.8,
    11.4, 11.0, 10.7, 10.3, 10.0, 9.6, 9.3, 9.0, 8.6, 8.3,
    8.15, 8.0, 7.8, 7.65, 7.5, 7.3, 7.15, 7.0, 6.85, 6.7,
    6.55, 6.4, 6.3, 6.15, 6.0, 5.9, 5.75, 5.65, 5.5, 5.4,
    5.3, 5.2, 5.1, 5.0, 4.9, 4.85, 4.75, 4.65, 4.6, 4.5,
    4.42, 4.35, 4.27, 4.2, 4.12, 4.05, 4.0, 3.93, 3.86, 3.8,
    3.73, 3.66, 3.6, 3.53, 3.46, 3.4, 3.34, 3.28, 3.21, 3.15,
    3.09, 3.03, 2.97, 2.92, 2.86, 2.81, 2.75, 2.7, 2.65, 2.6,
    2.56, 2.53, 2.49, 2.46, 2.42, 2.39, 2.35, 2.32, 2.28, 2.25,
    2.22, 2.19, 2.16, 2.13, 2.1, 2.07, 2.04, 2.01, 1.98, 1.95,
    1.92, 1.9, 1.87, 1.84, 1.82, 1.79, 1.77, 1.74, 1.72, 1.7,
    1.68, 1.66, 1.64, 1.62, 1.6, 1.58, 1.56, 1.54, 1.52, 1.5,
    1.48, 1.47, 1.45, 1.43, 1.42, 1.4, 1.39, 1.37, 1.36, 1.34,
    1.33, 1.31, 1.3, 1.28, 1.27, 1.26, 1.24, 1.23, 1.22, 1.2,
    1.19, 1.17, 1.16, 1.15, 1.14, 1.12, 1.11, 1.1, 1.08, 1.07,
    1.06, 1.05, 1.04, 1.03, 1.02, 1.0, 0.99, 0.98, 0.97, 0.96,
    0.95, 0.94, 0.93, 0.92, 0.91, 0.9, 0.89, 0.88, 0.86, 0.85,
    0.84, 0.83, 0.82, 0.81, 0.8, 0.8, 0.79, 0.78, 0.77, 0.76]
RHO_15NCO = [782,
    320, 95, 48, 32, 27.5, 24, 21.2, 19.2, 17.7, 16.5,
    15.9, 15.4, 14.9, 14.4, 14.0, 13.6, 13.2, 12.8, 12.4, 12.0,
    11.7, 11.4, 11.1, 10.8, 10.5, 10.2, 10.0, 9.8, 9.5, 9.3,
    9.0, 8.7, 8.4, 8.1, 7.8, 7.5, 7.2, 6.9, 6.5, 6.1,
    6.0, 5.9, 5.8, 5.7, 5.55, 5.45, 5.35, 5.25, 5.1, 5.0,
    4.9, 4.8, 4.72, 4.63, 4.55, 4.47, 4.38, 4.3, 4.2, 4.1,
    4.03, 3.96, 3.89, 3.82, 3.76, 3.7, 3.63, 3.57, 3.51, 3.45,
    3.39, 3.34, 3.29, 3.24, 3.19, 3.14, 3.09, 3.04, 3.0, 2.95,
    2.88, 2.82, 2.76, 2.7, 2.64, 2.58, 2.52, 2.46, 2.41, 2.35,
    2.31, 2.27, 2.23, 2.18, 2.14, 2.1, 2.06, 2.02, 1.98, 1.95,
    1.92, 1.9, 1.87, 1.84, 1.82, 1.79, 1.77, 1.74, 1.72, 1.7,
    1.68, 1.66, 1.63, 1.61, 1.59, 1.57, 1.55, 1.53, 1.5, 1.48,
    1.46, 1.44, 1.42, 1.4, 1.38, 1.36, 1.34, 1.32, 1.3, 1.28,
    1.26, 1.25, 1.23, 1.22, 1.2, 1.19, 1.17, 1.16, 1.14, 1.13,
    1.12, 1.1, 1.09, 1.08, 1.07, 1.05, 1.04, 1.03, 1.01, 1.0,
    0.99, 0.98, 0.97, 0.96, 0.95, 0.94, 0.93, 0.92, 0.91, 0.9,
    0.89, 0.88, 0.87, 0.86, 0.85, 0.84, 0.83, 0.82, 0.81, 0.8,
    0.79, 0.78, 0.77, 0.76, 0.75, 0.74, 0.73, 0.72, 0.71, 0.7,
    0.69, 0.685, 0.68, 0.67, 0.665, 0.66, 0.65, 0.645, 0.64, 0.63,
    0.625, 0.62, 0.615, 0.61, 0.605, 0.6, 0.595, 0.59, 0.585, 0.58]
RHO_14NCO = [401,
    340, 110, 61, 44, 35, 31, 28.5, 26.5, 25, 23.8,
    23, 22.2, 21.5, 21, 20.5, 19.8, 19.2, 18.6, 17.8, 17,
    16.6, 16.3, 16, 15.7, 15.3, 15, 14.7, 14.4, 14.1, 13.8,
    13.5, 13.2, 12.9, 12.6, 12.3, 12, 11.6, 11.2, 10.8, 10.5,
    11.2, 11.0, 10.6, 10.2, 9.9, 9.6, 9.3, 9.1, 8.8, 8.6,
    8.45, 8.3, 8.1, 7.95, 7.8, 7.65, 7.5, 7.35, 7.2, 7.1,
    6.95, 6.8, 6.7, 6.55, 6.45, 6.3, 6.2, 6.1, 6.0, 5.9,
    5.8, 5.7, 5.6, 5.5, 5.4, 5.3, 5.2, 5.1, 5.0, 4.9,
    4.82, 4.74, 4.66, 4.58, 4.5, 4.42, 4.34, 4.26, 4.18, 4.1,
    4.03, 3.96, 3.89, 3.82, 3.75, 3.68, 3.62, 3.55, 3.49, 3.42,
    3.38, 3.34, 3.3, 3.26, 3.22, 3.18, 3.14, 3.1, 3.05, 3.0,
    2.96, 2.92, 2.88, 2.84, 2.8, 2.76, 2.72, 2.68, 2.64, 2.6,
    2.56, 2.52, 2.48, 2.44, 2.4, 2.37, 2.33, 2.29, 2.26, 2.22,
    2.19, 2.16, 2.13, 2.1, 2.07, 2.04, 2.01, 1.98, 1.95, 1.92,
    1.9, 1.88, 1.85, 1.83, 1.81, 1.79, 1.77, 1.74, 1.72, 1.7,
    1.68, 1.66, 1.64, 1.62, 1.6, 1.58, 1.56, 1.55, 1.53, 1.51,
    1.49, 1.47, 1.46, 1.44, 1.42, 1.41, 1.39, 1.37, 1.36, 1.34,
    1.32, 1.31, 1.29, 1.28, 1.26, 1.25, 1.23, 1.22, 1.2, 1.19,
    1.18, 1.17, 1.16, 1.15, 1.14, 1.13, 1.12, 1.11, 1.1, 1.09,
    1.08, 1.075, 1.07, 1.06, 1.055, 1.05, 1.04, 1.035, 1.03, 1.02]
RHO_13NCO = [652,
    300, 93, 49, 33, 29, 25, 22, 19.8, 18.2, 17,
    16.4, 15.9, 15.4, 14.9, 14.5, 14.1, 13.7, 13.3, 12.9, 12.6,
    12.3, 12.0, 11.7, 11.4, 11.1, 10.8, 10.5, 10.2, 9.9, 9.6,
    9.3, 9.0, 8.7, 8.5, 8.2, 7.9, 7.7, 7.4, 7.1, 6.9,
    7.1, 6.9, 6.7, 6.5, 6.35, 6.2, 6.05, 5.9, 5.75, 5.6,
    5.5, 5.4, 5.3, 5.2, 5.1, 5.0, 4.9, 4.8, 4.7, 4.6,
    4.52, 4.44, 4.36, 4.28, 4.2, 4.12, 4.04, 3.96, 3.88, 3.8,
    3.73, 3.66, 3.59, 3.52, 3.45, 3.38, 3.31, 3.24, 3.17, 3.1,
    3.02, 2.94, 2.87, 2.8, 2.73, 2.66, 2.6, 2.53, 2.46, 2.4,
    2.34, 2.28, 2.2, 2.08, 1.9, 1.78, 1.85, 1.95, 2.02, 2.0,
    1.97, 1.94, 1.92, 1.89, 1.87, 1.85, 1.83, 1.81, 1.8, 1.78,
    1.76, 1.74, 1.72, 1.71, 1.69, 1.67, 1.65, 1.64, 1.62, 1.6,
    1.58, 1.56, 1.54, 1.52, 1.5, 1.48, 1.46, 1.44, 1.42, 1.4,
    1.38, 1.36, 1.34, 1.32, 1.31, 1.29, 1.27, 1.25, 1.24, 1.22,
    1.2, 1.19, 1.17, 1.16, 1.15, 1.13, 1.12, 1.11, 1.09, 1.08,
    1.07, 1.06, 1.04, 1.03, 1.02, 1.01, 1.0, 0.985, 0.97, 0.96,
    0.95, 0.94, 0.93, 0.92, 0.91, 0.9, 0.89, 0.88, 0.87, 0.86,
    0.85, 0.84, 0.835, 0.825, 0.815, 0.81, 0.8, 0.79, 0.785, 0.776,
    0.765, 0.755, 0.745, 0.735, 0.725, 0.715, 0.705, 0.695, 0.69, 0.68,
    0.67, 0.66, 0.65, 0.645, 0.635, 0.625, 0.615, 0.605, 0.6, 0.59]
RHO_12NCO = [1250,
    118, 33, 16, 9.9, 6.7, 5.4, 4.2, 3.6, 3.1, 2.85,
    2.55, 2.32, 2.13, 1.97, 1.86, 1.74, 1.66, 1.59, 1.53, 1.47,
    1.42, 1.37, 1.32, 1.27, 1.23, 1.18, 1.14, 1.10, 1.06, 1.02,
    0.992, 0.965, 0.939, 0.914, 0.889, 0.865, 0.842, 0.819, 0.797, 0.775,
    0.757, 0.739, 0.721, 0.704, 0.687, 0.671, 0.655, 0.64, 0.625, 0.61,
    0.592, 0.574, 0.557, 0.54, 0.524, 0.509, 0.493, 0.479, 0.464, 0.45,
    0.439, 0.428, 0.417, 0.407, 0.397, 0.387, 0.377, 0.368, 0.359, 0.35,
    0.344, 0.338, 0.332, 0.326, 0.321, 0.315, 0.31, 0.304, 0.299, 0.294,
    0.29, 0.286, 0.282, 0.278, 0.275, 0.271, 0.267, 0.264, 0.26, 0.257,
    0.253, 0.25, 0.246, 0.243, 0.24, 0.236, 0.233, 0.23, 0.227, 0.224,
    0.22, 0.216, 0.212, 0.208, 0.204, 0.2, 0.196, 0.192, 0.189, 0.185,
    0.181, 0.178, 0.174, 0.171, 0.167, 0.164, 0.161, 0.157, 0.154, 0.151,
    0.149, 0.147, 0.146, 0.144, 0.142, 0.141, 0.139, 0.137, 0.136, 0.134,
    0.132, 0.131, 0.129, 0.128, 0.126, 0.125, 0.123, 0.122, 0.12, 0.119,
    0.118, 0.117, 0.116, 0.114, 0.113, 0.112, 0.111, 0.11, 0.109, 0.108,
    0.107, 0.106, 0.105, 0.104, 0.103, 0.103, 0.102, 0.101, 0.1, 0.099,
    0.098, 0.097, 0.096, 0.095, 0.094, 0.093, 0.092, 0.091, 0.09, 0.089,
    0.088, 0.087, 0.086, 0.085, 0.084, 0.084, 0.083, 0.082, 0.081, 0.08,
    0.079, 0.079, 0.078, 0.077, 0.077, 0.076, 0.075, 0.075, 0.074, 0.073,
    0.072, 0.072, 0.071, 0.071, 0.07, 0.069, 0.069, 0.068, 0.068, 0.067]
RHO_11N = [1280,
    340, 112, 61, 39, 33, 29, 26.5, 24.5, 23.2, 22,
    21.3, 20.6, 20, 19.4, 18.8, 18.3, 17.8, 17.3, 16.8, 16,
    15.6, 15.2, 14.8, 14.4, 14, 13.7, 13.4, 13.0, 12.7, 12.4,
    12.1, 11.8, 11.5, 11.2, 10.8, 10.4, 10, 9.5, 9.1, 8.7,
    9.6, 9.2, 8.9, 8.6, 8.3, 8.1, 7.9, 7.6, 7.4, 7.2,
    7.05, 6.9, 6.75, 6.6, 6.45, 6.3, 6.15, 6.0, 5.85, 5.7,
    5.6, 5.5, 5.4, 5.3, 5.2, 5.1, 5.0, 4.95, 4.9, 4.85,
    4.75, 4.67, 4.6, 4.52, 4.45, 4.38, 4.3, 4.23, 4.17, 4.1,
    4.03, 3.96, 3.89, 3.82, 3.76, 3.69, 3.63, 3.57, 3.51, 3.45,
    3.4, 3.35, 3.29, 3.24, 3.19, 3.14, 3.09, 3.04, 2.99, 2.94,
    2.9, 2.86, 2.82, 2.78, 2.74, 2.7, 2.66, 2.62, 2.59, 2.55,
    2.52, 2.49, 2.45, 2.42, 2.39, 2.36, 2.33, 2.3, 2.27, 2.24,
    2.2, 2.17, 2.14, 2.1, 2.07, 2.04, 2.01, 1.98, 1.95, 1.92,
    1.89, 1.86, 1.83, 1.8, 1.78, 1.75, 1.72, 1.7, 1.67, 1.65,
    1.63, 1.61, 1.59, 1.57, 1.55, 1.53, 1.51, 1.49, 1.47, 1.45,
    1.43, 1.42, 1.4, 1.39, 1.37, 1.36, 1.34, 1.33, 1.31, 1.3,
    1.28, 1.27, 1.26, 1.24, 1.23, 1.22, 1.2, 1.19, 1.18, 1.16,
    1.15, 1.14, 1.13, 1.12, 1.1, 1.09, 1.08, 1.07, 1.06, 1.05,
    1.04, 1.02, 1.01, 1.0, 0.99, 0.97, 0.96, 0.95, 0.94, 0.93,
    0.92, 0.91, 0.9, 0.89, 0.88, 0.87, 0.86, 0.84, 0.83, 0.82]

SIGMA = [SIGMA_21CO, SIGMA_20NCO, SIGMA_19NCO, SIGMA_18NCO, SIGMA_17NCO, SIGMA_16NCO,
         SIGMA_15NCO, SIGMA_14NCO, SIGMA_13NCO, SIGMA_12NCO, SIGMA_11N]
RHO = [RHO_21CO, RHO_20NCO, RHO_19NCO, RHO_18NCO, RHO_17NCO, RHO_16NCO,
       RHO_15NCO, RHO_14NCO, RHO_13NCO, RHO_12NCO, RHO_11N]

# ---------------- figure ----------------
# the page body keeps an 8 px default margin, so the figure is offset by that much
OFF = 8
FIG_W, FIG_H = 2255 - OFF, 2005 - OFF
FONT = "Liberation Sans, Arial, sans-serif"
TICK_COLOR = "#595959"
GRID = "#D9D9D9"
MARKER_SIZE = 14

def px_x(p):
    return (p - OFF) / FIG_W

def px_y(p):
    return 1 - (p - OFF) / FIG_H

x_top = [f * 1000 for f in F_TOP_KHZ]
x_bot = [f * 1000 for f in F_BOT_KHZ]

fig = go.Figure()
for i, name in enumerate(NAMES_TOP):
    fig.add_trace(go.Scatter(
        x=x_top[:len(SIGMA[i])], y=SIGMA[i], mode="markers", name=name,
        marker=dict(color=COLORS[i], size=MARKER_SIZE, line=dict(width=0)),
        xaxis="x", yaxis="y", legend="legend", legendgroup="t%d" % i,
        cliponaxis=False, hoverinfo="skip"))
for i, name in enumerate(NAMES_BOT):
    fig.add_trace(go.Scatter(
        x=x_bot[:len(RHO[i])], y=RHO[i], mode="markers", name=name,
        marker=dict(color=COLORS[i], size=MARKER_SIZE, line=dict(width=0)),
        xaxis="x2", yaxis="y2", legend="legend2", legendgroup="b%d" % i,
        cliponaxis=False, hoverinfo="skip"))

axis_common = dict(showgrid=True, gridcolor=GRID, gridwidth=2, zeroline=False,
                   showline=True, linecolor=GRID, linewidth=2, mirror=True,
                   ticks="", automargin=False, fixedrange=True)

legend_common = dict(xanchor="left", yanchor="top",
                     font=dict(size=33, color=TICK_COLOR, family=FONT),
                     bgcolor="rgba(0,0,0,0)", tracegroupgap=16, traceorder="grouped",
                     itemclick=False, itemdoubleclick=False)

fig.update_layout(
    width=FIG_W, height=FIG_H, autosize=False,
    margin=dict(l=0, r=0, t=0, b=0, pad=0),
    paper_bgcolor="white", plot_bgcolor="white",
    font=dict(family=FONT, color=TICK_COLOR),
    showlegend=True,
    xaxis=dict(domain=[px_x(197), px_x(1979)], anchor="y", range=[0, 1000000],
               tickvals=TOP_X_TICKS, ticktext=TOP_X_LABELS,
               tickfont=dict(size=33, color=TICK_COLOR), ticklabelstandoff=16, **axis_common),
    yaxis=dict(domain=[px_y(911), px_y(101)], anchor="x", type="log",
               range=[-1.69897, 1.20412], tickvals=TOP_Y_TICKS, ticktext=TOP_Y_LABELS,
               tickfont=dict(size=33, color=TICK_COLOR), ticklabelstandoff=28, **axis_common),
    xaxis2=dict(domain=[px_x(302), px_x(2005)], anchor="y2", range=[0, 1000000],
                tickvals=TOP_X_TICKS, ticktext=BOT_X_LABELS,
                tickfont=dict(size=32, color=TICK_COLOR), ticklabelstandoff=16, **axis_common),
    yaxis2=dict(domain=[px_y(1879), px_y(1120)], anchor="x2", type="log",
                range=[-2, 4], tickvals=BOT_Y_TICKS, ticktext=BOT_Y_LABELS,
                tickfont=dict(size=27, color=TICK_COLOR), ticklabelstandoff=25, **axis_common),
    legend=dict(x=px_x(2058), y=px_y(184), **legend_common),
    legend2=dict(x=px_x(2058), y=px_y(1179), **legend_common),
)

ann = [
    dict(text="Nylon- Copper filled PLA", x=px_x(1165), y=px_y(32), size=43, angle=0),
    dict(text="Nylon- Copper filled PLA", x=px_x(1165), y=px_y(1058), size=43, angle=0),
    dict(text="Frequency (Hz)", x=px_x(1088), y=px_y(1011), size=33, angle=0),
    dict(text="Frequency (Hz)", x=px_x(1153), y=px_y(1980), size=33, angle=0),
    dict(text="Log of Conductivity Siemens/m", x=px_x(90), y=px_y(506), size=33, angle=-90),
    dict(text="Log of Ressistivity \u03c1 (\u03a9.m)", x=px_x(119), y=px_y(1567), size=33, angle=-90),
]
for a in ann:
    fig.add_annotation(text=a["text"], x=a["x"], y=a["y"], xref="paper", yref="paper",
                       xanchor="center", yanchor="middle", showarrow=False,
                       textangle=a["angle"], font=dict(size=a["size"], color="#1a1a1a", family=FONT))

# thin red page margin line at the far left
fig.add_shape(type="line", xref="paper", yref="paper", x0=px_x(37), x1=px_x(37), y0=0, y1=1,
              line=dict(color="#E8141B", width=2))

fig.write_html("out.html", config={"displayModeBar": False})
